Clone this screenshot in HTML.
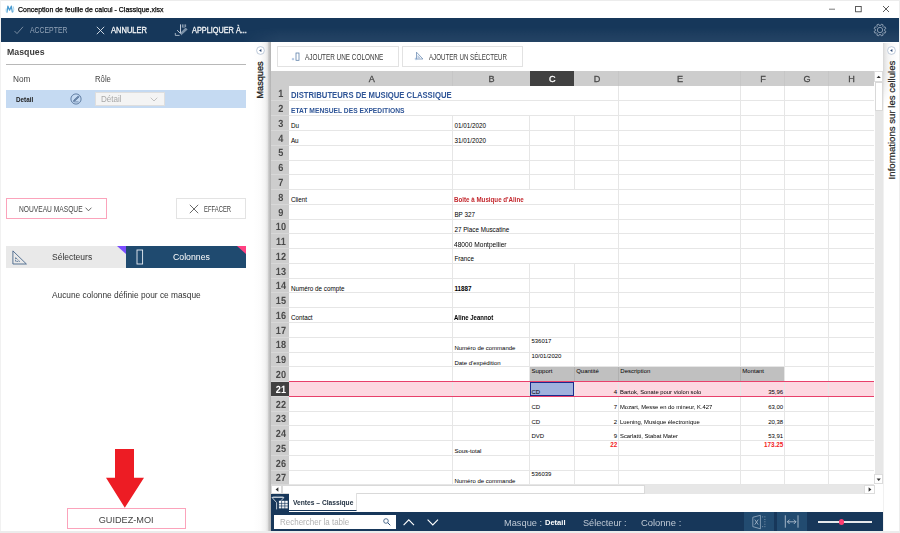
<!DOCTYPE html>
<html><head><meta charset="utf-8"><title>Conception de feuille de calcul</title>
<style>
html,body{margin:0;padding:0;}
body{width:900px;height:533px;overflow:hidden;background:#fff;position:relative;font-family:"Liberation Sans",sans-serif;color:#222;}
body div{position:absolute;box-sizing:border-box;}
.t{white-space:nowrap;}
svg{position:absolute;overflow:visible;}
</style></head><body>

<svg style="left:5.2px;top:3.6px" width="10" height="10" viewBox="0 0 10 10"><path d="M2 8 L2.9 2.2 L4.6 6.2 L6.3 2.2 L7.3 8" fill="none" stroke="#4a9bd0" stroke-width="1.25" stroke-linejoin="round" stroke-linecap="round"/><path d="M1.2 4.6 Q0.4 7.6 2.4 8.9" fill="none" stroke="#9fd3ec" stroke-width="0.9"/><path d="M8.2 2.3 Q9.4 5 8.3 8.2" fill="none" stroke="#9fd3ec" stroke-width="0.9"/></svg>
<div style="left:0.00px;top:0.00px;width:900.00px;height:1.00px;background:#ececec;"></div>
<div style="left:0.00px;top:0.00px;width:1.00px;height:533.00px;background:#f1f1f1;"></div>
<div style="left:899.10px;top:0.00px;width:0.90px;height:533.00px;background:#ededed;"></div>
<div class="t" style="left:18.00px;top:3.75px;font-size:8px;line-height:11px;height:11px;transform:scaleX(0.872);transform-origin:left center;color:#000;-webkit-text-stroke:0.25px;">Conception de feuille de calcul - Classique.xlsx</div>
<svg style="left:826px;top:3px" width="70" height="12" viewBox="0 0 70 12"><path d="M3 6.2 H9" stroke="#555" stroke-width="0.8"/><rect x="29.6" y="3.4" width="5.6" height="5.4" fill="none" stroke="#333" stroke-width="0.8"/><path d="M57 3 L63 9 M63 3 L57 9" stroke="#333" stroke-width="0.8"/></svg>
<div style="left:1.00px;top:18.00px;width:898.10px;height:23.60px;background:#16375a;"></div>
<div style="left:240.00px;top:18.00px;width:659.10px;height:23.60px;background:linear-gradient(to bottom,rgba(255,255,255,0) 35%,rgba(255,255,255,0.065) 100%);-webkit-mask-image:linear-gradient(90deg,transparent 0,#000 40px);"></div>
<svg style="left:14px;top:25px" width="10" height="10" viewBox="0 0 10 10"><path d="M0.5 6 L3 8.6 L9 1.8" fill="none" stroke="#8193a7" stroke-width="0.9"/></svg>
<div class="t" style="left:29.50px;top:23.96px;font-size:8.6px;line-height:12px;height:12px;transform:scaleX(0.8);transform-origin:left center;color:#93a4b8;">ACCEPTER</div>
<svg style="left:96px;top:26px" width="9" height="9" viewBox="0 0 9 9"><path d="M0.8 0.8 L8.2 8.2 M8.2 0.8 L0.8 8.2" stroke="#dfe6ee" stroke-width="0.9"/></svg>
<div class="t" style="left:111.00px;top:23.89px;font-size:8.4px;line-height:12px;height:12px;transform:scaleX(0.9);transform-origin:left center;color:#f4f6f8;-webkit-text-stroke:0.3px;">ANNULER</div>
<svg style="left:174px;top:23px" width="15" height="14" viewBox="0 0 15 14"><path d="M6.5 1.4 V10.4 M3.2 7.2 L6.5 10.6" fill="none" stroke="#dfe6ee" stroke-width="0.85"/><path d="M1.3 10 V12.4 H5.6" fill="none" stroke="#c3cedb" stroke-width="0.8"/><path d="M7 12.4 L13.6 6.6 L11.6 4.6 L6.6 9.6 Z" fill="#9fb0c3" fill-opacity="0.75"/><path d="M8.4 1.4 V4.6 M10 1.4 V5 M11.6 1.4 V4" stroke="#c3cedb" stroke-width="0.7"/></svg>
<div class="t" style="left:191.80px;top:23.89px;font-size:8.4px;line-height:12px;height:12px;transform:scaleX(0.873);transform-origin:left center;color:#f4f6f8;-webkit-text-stroke:0.3px;">APPLIQUER À...</div>
<svg style="left:873px;top:22.9px" width="14" height="14" viewBox="0 0 14 14"><path d="M7.68 2.45 L8.35 1.15 L10.18 1.91 L9.73 3.30 L10.70 4.27 L12.09 3.82 L12.85 5.65 L11.55 6.32 L11.55 7.68 L12.85 8.35 L12.09 10.18 L10.70 9.73 L9.73 10.70 L10.18 12.09 L8.35 12.85 L7.68 11.55 L6.32 11.55 L5.65 12.85 L3.82 12.09 L4.27 10.70 L3.30 9.73 L1.91 10.18 L1.15 8.35 L2.45 7.68 L2.45 6.32 L1.15 5.65 L1.91 3.82 L3.30 4.27 L4.27 3.30 L3.82 1.91 L5.65 1.15 L6.32 2.45 Z" fill="none" stroke="#a9b7c7" stroke-width="0.75" stroke-linejoin="round"/><circle cx="7" cy="7" r="2.7" fill="none" stroke="#a9b7c7" stroke-width="0.75"/></svg>
<div class="t" style="left:6.80px;top:46.16px;font-size:9.2px;line-height:12px;height:12px;transform:scaleX(0.955);transform-origin:left center;color:#3c3c3c;font-weight:bold;">Masques</div>
<div style="left:6.30px;top:64.20px;width:239.60px;height:1.00px;background:#b8b8b8;"></div>
<div class="t" style="left:13.00px;top:73.22px;font-size:8.5px;line-height:12px;height:12px;transform:scaleX(0.97);transform-origin:left center;color:#444;">Nom</div>
<div class="t" style="left:94.60px;top:73.22px;font-size:8.5px;line-height:12px;height:12px;transform:scaleX(0.91);transform-origin:left center;color:#444;">Rôle</div>
<div style="left:6.30px;top:90.10px;width:239.70px;height:17.90px;background:#c5daf2;"></div>
<div class="t" style="left:15.60px;top:95.11px;font-size:7px;line-height:9px;height:9px;transform:scaleX(0.9);transform-origin:left center;color:#1a1a1a;font-weight:bold;">Detail</div>
<svg style="left:69.6px;top:93.3px" width="12" height="12" viewBox="0 0 12 12"><circle cx="6" cy="6" r="5.1" fill="none" stroke="#40608a" stroke-width="0.75"/><path d="M3.3 8.5 L3.9 7.0 L8.2 2.9 L9.2 3.9 L4.9 8.1 Z" fill="#6d88aa" stroke="#40608a" stroke-width="0.5"/><path d="M4.2 8.9 H8.6" stroke="#40608a" stroke-width="0.6"/></svg>
<div style="left:94.70px;top:91.80px;width:70.70px;height:14.10px;background:#f4f4f4;border:1px solid #dedede;"></div>
<div class="t" style="left:101.00px;top:93.12px;font-size:8.5px;line-height:12px;height:12px;transform:scaleX(0.95);transform-origin:left center;color:#a8a8a8;">Détail</div>
<svg style="left:150px;top:97px" width="8" height="5" viewBox="0 0 8 5"><path d="M0.7 0.7 L4 4 L7.3 0.7" fill="none" stroke="#b5b5b5" stroke-width="0.8"/></svg>
<div style="left:6.00px;top:198.00px;width:101.00px;height:21.00px;border:1px solid #fba3bb;background:#fff;"></div>
<div class="t" style="left:18.70px;top:202.56px;font-size:8.6px;line-height:12px;height:12px;transform:scaleX(0.774);transform-origin:left center;color:#444;">NOUVEAU MASQUE</div>
<svg style="left:84.6px;top:206.6px" width="7" height="5" viewBox="0 0 7 5"><path d="M0.6 0.7 L3.5 3.8 L6.4 0.7" fill="none" stroke="#444" stroke-width="0.8"/></svg>
<div style="left:176.00px;top:198.00px;width:70.00px;height:21.00px;border:1px solid #e3e3e3;background:#fff;"></div>
<svg style="left:188.5px;top:204px" width="10" height="10" viewBox="0 0 10 10"><path d="M0.8 0.8 L9.2 9.2 M9.2 0.8 L0.8 9.2" stroke="#444" stroke-width="0.8"/></svg>
<div class="t" style="left:204.20px;top:202.56px;font-size:8.6px;line-height:12px;height:12px;transform:scaleX(0.684);transform-origin:left center;color:#444;">EFFACER</div>
<div style="left:6.00px;top:245.80px;width:120.00px;height:22.30px;background:#e9e9e9;"></div>
<div style="left:126.00px;top:245.80px;width:120.00px;height:22.30px;background:#1f4a6f;"></div>
<svg style="left:117px;top:246px" width="9" height="8" viewBox="0 0 9 8"><path d="M0 0 H9 V8 Z" fill="#7b4dff"/></svg>
<svg style="left:237px;top:246px" width="9" height="8" viewBox="0 0 9 8"><path d="M0 0 H9 V8 Z" fill="#ff4081"/></svg>
<svg style="left:11.8px;top:249.8px" width="15.5" height="15" viewBox="0 0 15.5 15"><path d="M0.9 0.9 V14 H14.4 Z" fill="none" stroke="#3d5f85" stroke-width="0.85" stroke-linejoin="round"/><path d="M3.6 7.6 V11.4 H7.6 Z" fill="none" stroke="#3d5f85" stroke-width="0.75" stroke-dasharray="1.6 0.7"/></svg>
<div class="t" style="left:52.20px;top:250.56px;font-size:9.2px;line-height:12px;height:12px;transform:scaleX(0.925);transform-origin:left center;color:#333;">Sélecteurs</div>
<svg style="left:135.5px;top:249px" width="8" height="16" viewBox="0 0 8 16"><rect x="1" y="1" width="5.6" height="14" fill="none" stroke="#e8eef5" stroke-width="0.9"/></svg>
<div class="t" style="left:173.30px;top:250.56px;font-size:9.2px;line-height:12px;height:12px;transform:scaleX(0.95);transform-origin:left center;color:#fff;">Colonnes</div>
<div class="t" style="left:52.00px;top:288.92px;font-size:8.5px;line-height:12px;height:12px;transform:scaleX(0.98);transform-origin:left center;color:#333;">Aucune colonne définie pour ce masque</div>
<svg style="left:100px;top:445px" width="50" height="66" viewBox="0 0 50 66"><path d="M15 4 H34 V32.7 H44 L24.8 62.7 L6 32.7 H15 Z" fill="#ed1c24"/></svg>
<div style="left:67.30px;top:508.30px;width:118.40px;height:20.70px;border:1px solid #fba3bb;background:#fff;"></div>
<div class="t" style="left:67.30px;top:512.64px;font-size:9.7px;line-height:13px;height:13px;width:118.40px;text-align:center;transform:scaleX(0.945);transform-origin:center center;color:#444;">GUIDEZ-MOI</div>
<div style="left:253.30px;top:42.30px;width:18.00px;height:488.70px;background:linear-gradient(90deg,#fff 0%,#fcfcfc 42%,#f3f3f3 68%,#e6e6e6 80%,#d2d2d2 84%,#c2c2c2 90%,#b2b2b2 100%);"></div>
<svg style="left:254.9px;top:44.8px" width="11" height="11" viewBox="0 0 11 11"><circle cx="5.5" cy="5.5" r="3.9" fill="#fff" stroke="#a9b9cf" stroke-width="0.75"/><path d="M6.4 4.1 V6.9 L4.1 5.5 Z" fill="#2c4a78"/></svg>
<div class="t" style="left:260.2px;top:79.7px;width:0;height:0;"><div class="t" style="left:-30px;top:-7px;width:60px;height:14px;line-height:14px;text-align:center;font-size:9.4px;color:#1e1e1e;-webkit-text-stroke:0.3px;transform:rotate(-90deg) scaleX(0.975);">Masques</div></div>
<div style="left:271.20px;top:42.00px;width:1.00px;height:1.00px;background:#fff;"></div>
<div style="left:277.30px;top:46.00px;width:121.30px;height:20.60px;border:1px solid #e2e2e2;background:#fff;"></div>
<svg style="left:290.5px;top:51px" width="10" height="11" viewBox="0 0 10 11"><rect x="5" y="2" width="3" height="7.3" fill="none" stroke="#5478a4" stroke-width="0.75"/><path d="M0.8 8.1 H3.2 M2 6.9 V9.3" stroke="#7fa3cf" stroke-width="0.65"/></svg>
<div class="t" style="left:304.50px;top:50.69px;font-size:8.4px;line-height:12px;height:12px;transform:scaleX(0.762);transform-origin:left center;color:#3a3a3a;">AJOUTER UNE COLONNE</div>
<div style="left:402.00px;top:46.00px;width:120.60px;height:20.60px;border:1px solid #e2e2e2;background:#fff;"></div>
<svg style="left:414px;top:51px" width="11" height="11" viewBox="0 0 11 11"><path d="M2.5 1.2 V8 H8.9 Z" fill="none" stroke="#5b7fab" stroke-width="0.7" stroke-linejoin="round"/><path d="M3.9 4.6 V6.7 H5.9 Z" fill="none" stroke="#7a9bc4" stroke-width="0.5"/><path d="M0.7 7.9 H3.3 M2 6.6 V9.2" stroke="#7fa3cf" stroke-width="0.6"/></svg>
<div class="t" style="left:429.00px;top:50.69px;font-size:8.4px;line-height:12px;height:12px;transform:scaleX(0.735);transform-origin:left center;color:#3a3a3a;">AJOUTER UN SÉLECTEUR</div>
<div style="left:271.00px;top:71.30px;width:602.60px;height:15.00px;background:#cdcdcd;"></div>
<div style="left:271.00px;top:71.30px;width:18.00px;height:413.69px;background:#cdcdcd;"></div>
<div style="left:529.50px;top:71.30px;width:44.80px;height:15.00px;background:#414141;"></div>
<div class="t" style="left:289.50px;top:72.47px;font-size:9.5px;line-height:13px;height:13px;width:163.50px;text-align:center;transform:scaleX(0.96);transform-origin:center center;color:#4a4a4a;-webkit-text-stroke:0.3px;">A</div>
<div class="t" style="left:453.00px;top:72.47px;font-size:9.5px;line-height:13px;height:13px;width:77.00px;text-align:center;transform:scaleX(0.96);transform-origin:center center;color:#4a4a4a;-webkit-text-stroke:0.3px;">B</div>
<div class="t" style="left:530.00px;top:72.47px;font-size:9.5px;line-height:13px;height:13px;width:44.80px;text-align:center;transform:scaleX(0.96);transform-origin:center center;color:#fff;-webkit-text-stroke:0.3px;">C</div>
<div class="t" style="left:574.80px;top:72.47px;font-size:9.5px;line-height:13px;height:13px;width:44.10px;text-align:center;transform:scaleX(0.96);transform-origin:center center;color:#4a4a4a;-webkit-text-stroke:0.3px;">D</div>
<div class="t" style="left:618.90px;top:72.47px;font-size:9.5px;line-height:13px;height:13px;width:122.00px;text-align:center;transform:scaleX(0.96);transform-origin:center center;color:#4a4a4a;-webkit-text-stroke:0.3px;">E</div>
<div class="t" style="left:740.90px;top:72.47px;font-size:9.5px;line-height:13px;height:13px;width:44.00px;text-align:center;transform:scaleX(0.96);transform-origin:center center;color:#4a4a4a;-webkit-text-stroke:0.3px;">F</div>
<div class="t" style="left:784.90px;top:72.47px;font-size:9.5px;line-height:13px;height:13px;width:44.00px;text-align:center;transform:scaleX(0.96);transform-origin:center center;color:#4a4a4a;-webkit-text-stroke:0.3px;">G</div>
<div class="t" style="left:828.90px;top:72.47px;font-size:9.5px;line-height:13px;height:13px;width:45.20px;text-align:center;transform:scaleX(0.96);transform-origin:center center;color:#4a4a4a;-webkit-text-stroke:0.3px;">H</div>
<div style="left:452.00px;top:71.30px;width:1.00px;height:15.00px;background:#c6c6c6;"></div>
<div style="left:617.90px;top:71.30px;width:1.00px;height:15.00px;background:#c6c6c6;"></div>
<div style="left:739.90px;top:71.30px;width:1.00px;height:15.00px;background:#c6c6c6;"></div>
<div style="left:783.90px;top:71.30px;width:1.00px;height:15.00px;background:#c6c6c6;"></div>
<div style="left:827.90px;top:71.30px;width:1.00px;height:15.00px;background:#c6c6c6;"></div>
<div style="left:289.00px;top:381.60px;width:584.60px;height:14.77px;background:#fdd8e1;"></div>
<div style="left:529.20px;top:366.23px;width:255.50px;height:15.37px;background:#c0c0c0;"></div>
<div style="left:289.00px;top:100.47px;width:584.60px;height:1.00px;background:#e6e6e6;"></div>
<div style="left:271.00px;top:100.47px;width:18.00px;height:1.00px;background:#d8d8d8;"></div>
<div style="left:289.00px;top:115.24px;width:584.60px;height:1.00px;background:#e6e6e6;"></div>
<div style="left:271.00px;top:115.24px;width:18.00px;height:1.00px;background:#d8d8d8;"></div>
<div style="left:289.00px;top:130.01px;width:584.60px;height:1.00px;background:#e6e6e6;"></div>
<div style="left:271.00px;top:130.01px;width:18.00px;height:1.00px;background:#d8d8d8;"></div>
<div style="left:289.00px;top:144.78px;width:584.60px;height:1.00px;background:#e6e6e6;"></div>
<div style="left:271.00px;top:144.78px;width:18.00px;height:1.00px;background:#d8d8d8;"></div>
<div style="left:289.00px;top:159.55px;width:584.60px;height:1.00px;background:#e6e6e6;"></div>
<div style="left:271.00px;top:159.55px;width:18.00px;height:1.00px;background:#d8d8d8;"></div>
<div style="left:289.00px;top:174.32px;width:584.60px;height:1.00px;background:#e6e6e6;"></div>
<div style="left:271.00px;top:174.32px;width:18.00px;height:1.00px;background:#d8d8d8;"></div>
<div style="left:289.00px;top:189.09px;width:584.60px;height:1.00px;background:#e6e6e6;"></div>
<div style="left:271.00px;top:189.09px;width:18.00px;height:1.00px;background:#d8d8d8;"></div>
<div style="left:289.00px;top:203.86px;width:584.60px;height:1.00px;background:#e6e6e6;"></div>
<div style="left:271.00px;top:203.86px;width:18.00px;height:1.00px;background:#d8d8d8;"></div>
<div style="left:289.00px;top:218.63px;width:584.60px;height:1.00px;background:#e6e6e6;"></div>
<div style="left:271.00px;top:218.63px;width:18.00px;height:1.00px;background:#d8d8d8;"></div>
<div style="left:289.00px;top:233.40px;width:584.60px;height:1.00px;background:#e6e6e6;"></div>
<div style="left:271.00px;top:233.40px;width:18.00px;height:1.00px;background:#d8d8d8;"></div>
<div style="left:289.00px;top:248.17px;width:584.60px;height:1.00px;background:#e6e6e6;"></div>
<div style="left:271.00px;top:248.17px;width:18.00px;height:1.00px;background:#d8d8d8;"></div>
<div style="left:289.00px;top:262.94px;width:584.60px;height:1.00px;background:#e6e6e6;"></div>
<div style="left:271.00px;top:262.94px;width:18.00px;height:1.00px;background:#d8d8d8;"></div>
<div style="left:289.00px;top:277.71px;width:584.60px;height:1.00px;background:#e6e6e6;"></div>
<div style="left:271.00px;top:277.71px;width:18.00px;height:1.00px;background:#d8d8d8;"></div>
<div style="left:289.00px;top:292.48px;width:584.60px;height:1.00px;background:#e6e6e6;"></div>
<div style="left:271.00px;top:292.48px;width:18.00px;height:1.00px;background:#d8d8d8;"></div>
<div style="left:289.00px;top:307.25px;width:584.60px;height:1.00px;background:#e6e6e6;"></div>
<div style="left:271.00px;top:307.25px;width:18.00px;height:1.00px;background:#d8d8d8;"></div>
<div style="left:289.00px;top:322.02px;width:584.60px;height:1.00px;background:#e6e6e6;"></div>
<div style="left:271.00px;top:322.02px;width:18.00px;height:1.00px;background:#d8d8d8;"></div>
<div style="left:289.00px;top:336.79px;width:584.60px;height:1.00px;background:#e6e6e6;"></div>
<div style="left:271.00px;top:336.79px;width:18.00px;height:1.00px;background:#d8d8d8;"></div>
<div style="left:289.00px;top:351.56px;width:584.60px;height:1.00px;background:#e6e6e6;"></div>
<div style="left:271.00px;top:351.56px;width:18.00px;height:1.00px;background:#d8d8d8;"></div>
<div style="left:289.00px;top:366.33px;width:584.60px;height:1.00px;background:#e6e6e6;"></div>
<div style="left:271.00px;top:366.33px;width:18.00px;height:1.00px;background:#d8d8d8;"></div>
<div style="left:289.00px;top:381.10px;width:584.60px;height:1.00px;background:#e6e6e6;"></div>
<div style="left:271.00px;top:381.10px;width:18.00px;height:1.00px;background:#d8d8d8;"></div>
<div style="left:289.00px;top:395.87px;width:584.60px;height:1.00px;background:#e6e6e6;"></div>
<div style="left:271.00px;top:395.87px;width:18.00px;height:1.00px;background:#d8d8d8;"></div>
<div style="left:289.00px;top:410.64px;width:584.60px;height:1.00px;background:#e6e6e6;"></div>
<div style="left:271.00px;top:410.64px;width:18.00px;height:1.00px;background:#d8d8d8;"></div>
<div style="left:289.00px;top:425.41px;width:584.60px;height:1.00px;background:#e6e6e6;"></div>
<div style="left:271.00px;top:425.41px;width:18.00px;height:1.00px;background:#d8d8d8;"></div>
<div style="left:289.00px;top:440.18px;width:584.60px;height:1.00px;background:#e6e6e6;"></div>
<div style="left:271.00px;top:440.18px;width:18.00px;height:1.00px;background:#d8d8d8;"></div>
<div style="left:289.00px;top:454.95px;width:584.60px;height:1.00px;background:#e6e6e6;"></div>
<div style="left:271.00px;top:454.95px;width:18.00px;height:1.00px;background:#d8d8d8;"></div>
<div style="left:289.00px;top:469.72px;width:584.60px;height:1.00px;background:#e6e6e6;"></div>
<div style="left:271.00px;top:469.72px;width:18.00px;height:1.00px;background:#d8d8d8;"></div>
<div style="left:289.00px;top:484.49px;width:584.60px;height:1.00px;background:#e6e6e6;"></div>
<div style="left:271.00px;top:484.49px;width:18.00px;height:1.00px;background:#d8d8d8;"></div>
<div style="left:452.00px;top:115.74px;width:1.00px;height:369.25px;background:#e6e6e6;"></div>
<div style="left:529.00px;top:115.74px;width:1.00px;height:73.85px;background:#e6e6e6;"></div>
<div style="left:573.80px;top:115.74px;width:1.00px;height:73.85px;background:#e6e6e6;"></div>
<div style="left:529.00px;top:263.44px;width:1.00px;height:221.55px;background:#e6e6e6;"></div>
<div style="left:573.80px;top:263.44px;width:1.00px;height:221.55px;background:#e6e6e6;"></div>
<div style="left:617.90px;top:86.20px;width:1.00px;height:398.79px;background:#e6e6e6;"></div>
<div style="left:739.90px;top:86.20px;width:1.00px;height:398.79px;background:#e6e6e6;"></div>
<div style="left:783.90px;top:86.20px;width:1.00px;height:398.79px;background:#e6e6e6;"></div>
<div style="left:827.90px;top:86.20px;width:1.00px;height:398.79px;background:#e6e6e6;"></div>
<div style="left:573.80px;top:366.83px;width:1.00px;height:14.77px;background:#b0b0b0;"></div>
<div style="left:617.90px;top:366.83px;width:1.00px;height:14.77px;background:#b0b0b0;"></div>
<div style="left:739.90px;top:366.83px;width:1.00px;height:14.77px;background:#b0b0b0;"></div>
<div style="left:271.00px;top:381.60px;width:18.00px;height:14.77px;background:#414141;"></div>
<div class="t" style="left:271.50px;top:88.36px;font-size:10.4px;line-height:13px;height:13px;width:17.80px;text-align:center;transform:scaleX(0.88);transform-origin:center center;color:#4a4a4a;font-weight:bold;text-rendering:geometricPrecision;">1</div>
<div class="t" style="left:271.50px;top:103.13px;font-size:10.4px;line-height:13px;height:13px;width:17.80px;text-align:center;transform:scaleX(0.88);transform-origin:center center;color:#4a4a4a;font-weight:bold;text-rendering:geometricPrecision;">2</div>
<div class="t" style="left:271.50px;top:117.90px;font-size:10.4px;line-height:13px;height:13px;width:17.80px;text-align:center;transform:scaleX(0.88);transform-origin:center center;color:#4a4a4a;font-weight:bold;text-rendering:geometricPrecision;">3</div>
<div class="t" style="left:271.50px;top:132.67px;font-size:10.4px;line-height:13px;height:13px;width:17.80px;text-align:center;transform:scaleX(0.88);transform-origin:center center;color:#4a4a4a;font-weight:bold;text-rendering:geometricPrecision;">4</div>
<div class="t" style="left:271.50px;top:147.44px;font-size:10.4px;line-height:13px;height:13px;width:17.80px;text-align:center;transform:scaleX(0.88);transform-origin:center center;color:#4a4a4a;font-weight:bold;text-rendering:geometricPrecision;">5</div>
<div class="t" style="left:271.50px;top:162.21px;font-size:10.4px;line-height:13px;height:13px;width:17.80px;text-align:center;transform:scaleX(0.88);transform-origin:center center;color:#4a4a4a;font-weight:bold;text-rendering:geometricPrecision;">6</div>
<div class="t" style="left:271.50px;top:176.98px;font-size:10.4px;line-height:13px;height:13px;width:17.80px;text-align:center;transform:scaleX(0.88);transform-origin:center center;color:#4a4a4a;font-weight:bold;text-rendering:geometricPrecision;">7</div>
<div class="t" style="left:271.50px;top:191.75px;font-size:10.4px;line-height:13px;height:13px;width:17.80px;text-align:center;transform:scaleX(0.88);transform-origin:center center;color:#4a4a4a;font-weight:bold;text-rendering:geometricPrecision;">8</div>
<div class="t" style="left:271.50px;top:206.52px;font-size:10.4px;line-height:13px;height:13px;width:17.80px;text-align:center;transform:scaleX(0.88);transform-origin:center center;color:#4a4a4a;font-weight:bold;text-rendering:geometricPrecision;">9</div>
<div class="t" style="left:271.50px;top:221.29px;font-size:10.4px;line-height:13px;height:13px;width:17.80px;text-align:center;transform:scaleX(0.88);transform-origin:center center;color:#4a4a4a;font-weight:bold;text-rendering:geometricPrecision;">10</div>
<div class="t" style="left:271.50px;top:236.06px;font-size:10.4px;line-height:13px;height:13px;width:17.80px;text-align:center;transform:scaleX(0.88);transform-origin:center center;color:#4a4a4a;font-weight:bold;text-rendering:geometricPrecision;">11</div>
<div class="t" style="left:271.50px;top:250.83px;font-size:10.4px;line-height:13px;height:13px;width:17.80px;text-align:center;transform:scaleX(0.88);transform-origin:center center;color:#4a4a4a;font-weight:bold;text-rendering:geometricPrecision;">12</div>
<div class="t" style="left:271.50px;top:265.60px;font-size:10.4px;line-height:13px;height:13px;width:17.80px;text-align:center;transform:scaleX(0.88);transform-origin:center center;color:#4a4a4a;font-weight:bold;text-rendering:geometricPrecision;">13</div>
<div class="t" style="left:271.50px;top:280.37px;font-size:10.4px;line-height:13px;height:13px;width:17.80px;text-align:center;transform:scaleX(0.88);transform-origin:center center;color:#4a4a4a;font-weight:bold;text-rendering:geometricPrecision;">14</div>
<div class="t" style="left:271.50px;top:295.14px;font-size:10.4px;line-height:13px;height:13px;width:17.80px;text-align:center;transform:scaleX(0.88);transform-origin:center center;color:#4a4a4a;font-weight:bold;text-rendering:geometricPrecision;">15</div>
<div class="t" style="left:271.50px;top:309.91px;font-size:10.4px;line-height:13px;height:13px;width:17.80px;text-align:center;transform:scaleX(0.88);transform-origin:center center;color:#4a4a4a;font-weight:bold;text-rendering:geometricPrecision;">16</div>
<div class="t" style="left:271.50px;top:324.68px;font-size:10.4px;line-height:13px;height:13px;width:17.80px;text-align:center;transform:scaleX(0.88);transform-origin:center center;color:#4a4a4a;font-weight:bold;text-rendering:geometricPrecision;">17</div>
<div class="t" style="left:271.50px;top:339.45px;font-size:10.4px;line-height:13px;height:13px;width:17.80px;text-align:center;transform:scaleX(0.88);transform-origin:center center;color:#4a4a4a;font-weight:bold;text-rendering:geometricPrecision;">18</div>
<div class="t" style="left:271.50px;top:354.22px;font-size:10.4px;line-height:13px;height:13px;width:17.80px;text-align:center;transform:scaleX(0.88);transform-origin:center center;color:#4a4a4a;font-weight:bold;text-rendering:geometricPrecision;">19</div>
<div class="t" style="left:271.50px;top:368.99px;font-size:10.4px;line-height:13px;height:13px;width:17.80px;text-align:center;transform:scaleX(0.88);transform-origin:center center;color:#4a4a4a;font-weight:bold;text-rendering:geometricPrecision;">20</div>
<div class="t" style="left:271.50px;top:383.76px;font-size:10.4px;line-height:13px;height:13px;width:17.80px;text-align:center;transform:scaleX(0.88);transform-origin:center center;color:#fff;font-weight:bold;text-rendering:geometricPrecision;">21</div>
<div class="t" style="left:271.50px;top:398.53px;font-size:10.4px;line-height:13px;height:13px;width:17.80px;text-align:center;transform:scaleX(0.88);transform-origin:center center;color:#4a4a4a;font-weight:bold;text-rendering:geometricPrecision;">22</div>
<div class="t" style="left:271.50px;top:413.30px;font-size:10.4px;line-height:13px;height:13px;width:17.80px;text-align:center;transform:scaleX(0.88);transform-origin:center center;color:#4a4a4a;font-weight:bold;text-rendering:geometricPrecision;">23</div>
<div class="t" style="left:271.50px;top:428.07px;font-size:10.4px;line-height:13px;height:13px;width:17.80px;text-align:center;transform:scaleX(0.88);transform-origin:center center;color:#4a4a4a;font-weight:bold;text-rendering:geometricPrecision;">24</div>
<div class="t" style="left:271.50px;top:442.84px;font-size:10.4px;line-height:13px;height:13px;width:17.80px;text-align:center;transform:scaleX(0.88);transform-origin:center center;color:#4a4a4a;font-weight:bold;text-rendering:geometricPrecision;">25</div>
<div class="t" style="left:271.50px;top:457.61px;font-size:10.4px;line-height:13px;height:13px;width:17.80px;text-align:center;transform:scaleX(0.88);transform-origin:center center;color:#4a4a4a;font-weight:bold;text-rendering:geometricPrecision;">26</div>
<div class="t" style="left:271.50px;top:472.38px;font-size:10.4px;line-height:13px;height:13px;width:17.80px;text-align:center;transform:scaleX(0.88);transform-origin:center center;color:#4a4a4a;font-weight:bold;text-rendering:geometricPrecision;">27</div>
<div style="left:289.00px;top:380.90px;width:584.60px;height:1.30px;background:#e8406b;"></div>
<div style="left:289.00px;top:395.77px;width:584.60px;height:1.30px;background:#e8406b;"></div>
<div style="left:529.70px;top:381.70px;width:44.80px;height:14.67px;background:#a0b2dd;border:1.2px solid #1c2a8c;"></div>
<div class="t" style="left:291.00px;top:88.86px;font-size:8.3px;line-height:12px;height:12px;transform:scaleX(0.929);transform-origin:left center;color:#2f5597;font-weight:bold;">DISTRIBUTEURS DE MUSIQUE CLASSIQUE</div>
<div class="t" style="left:291.00px;top:104.98px;font-size:7.8px;line-height:11px;height:11px;transform:scaleX(0.859);transform-origin:left center;color:#2f5597;font-weight:bold;">ETAT MENSUEL DES EXPEDITIONS</div>
<div class="t" style="left:290.90px;top:121.38px;font-size:6.3px;line-height:9px;height:9px;color:#000;">Du</div>
<div class="t" style="left:454.40px;top:121.38px;font-size:6.3px;line-height:9px;height:9px;color:#000;">01/01/2020</div>
<div class="t" style="left:290.90px;top:136.15px;font-size:6.3px;line-height:9px;height:9px;color:#000;">Au</div>
<div class="t" style="left:454.40px;top:136.15px;font-size:6.3px;line-height:9px;height:9px;color:#000;">31/01/2020</div>
<div class="t" style="left:290.90px;top:195.23px;font-size:6.3px;line-height:9px;height:9px;color:#000;">Client</div>
<div class="t" style="left:454.40px;top:195.23px;font-size:6.3px;line-height:9px;height:9px;transform:scaleX(0.986);transform-origin:left center;color:#c3272d;font-weight:bold;">Boîte à Musique d'Aline</div>
<div class="t" style="left:454.40px;top:210.00px;font-size:6.3px;line-height:9px;height:9px;color:#000;">BP 327</div>
<div class="t" style="left:454.40px;top:224.77px;font-size:6.3px;line-height:9px;height:9px;color:#000;">27 Place Muscatine</div>
<div class="t" style="left:454.40px;top:239.54px;font-size:6.3px;line-height:9px;height:9px;transform:scaleX(1.05);transform-origin:left center;color:#000;">48000 Montpellier</div>
<div class="t" style="left:454.40px;top:254.31px;font-size:6.3px;line-height:9px;height:9px;color:#000;">France</div>
<div class="t" style="left:290.90px;top:283.85px;font-size:6.3px;line-height:9px;height:9px;color:#000;">Numéro de compte</div>
<div class="t" style="left:454.40px;top:283.85px;font-size:6.3px;line-height:9px;height:9px;color:#000;font-weight:bold;">11887</div>
<div class="t" style="left:290.90px;top:313.39px;font-size:6.3px;line-height:9px;height:9px;color:#000;">Contact</div>
<div class="t" style="left:454.40px;top:313.39px;font-size:6.3px;line-height:9px;height:9px;transform:scaleX(0.95);transform-origin:left center;color:#000;font-weight:bold;">Aline Jeannot</div>
<div class="t" style="left:454.40px;top:343.94px;font-size:6.0px;line-height:8px;height:8px;color:#000;">Numéro de commande</div>
<div class="t" style="left:531.40px;top:337.14px;font-size:6.0px;line-height:8px;height:8px;color:#000;">536017</div>
<div class="t" style="left:454.40px;top:358.71px;font-size:6.0px;line-height:8px;height:8px;color:#000;">Date d'expédition</div>
<div class="t" style="left:531.40px;top:351.91px;font-size:6.0px;line-height:8px;height:8px;color:#000;">10/01/2020</div>
<div class="t" style="left:531.40px;top:366.68px;font-size:6.0px;line-height:8px;height:8px;color:#000;">Support</div>
<div class="t" style="left:576.20px;top:366.68px;font-size:6.0px;line-height:8px;height:8px;color:#000;">Quantité</div>
<div class="t" style="left:620.30px;top:366.68px;font-size:6.0px;line-height:8px;height:8px;color:#000;">Description</div>
<div class="t" style="left:742.30px;top:366.68px;font-size:6.0px;line-height:8px;height:8px;color:#000;">Montant</div>
<div class="t" style="left:531.40px;top:388.25px;font-size:6.0px;line-height:8px;height:8px;color:#000;">CD</div>
<div class="t" style="left:574.30px;top:388.25px;font-size:6.0px;line-height:8px;height:8px;width:42.90px;text-align:right;color:#000;">4</div>
<div class="t" style="left:620.30px;top:388.25px;font-size:6.0px;line-height:8px;height:8px;transform:scaleX(0.975);transform-origin:left center;color:#000;">Bartok, Sonate pour violon solo</div>
<div class="t" style="left:740.40px;top:388.25px;font-size:6.0px;line-height:8px;height:8px;width:42.80px;text-align:right;color:#000;">35,96</div>
<div class="t" style="left:531.40px;top:403.02px;font-size:6.0px;line-height:8px;height:8px;color:#000;">CD</div>
<div class="t" style="left:574.30px;top:403.02px;font-size:6.0px;line-height:8px;height:8px;width:42.90px;text-align:right;color:#000;">7</div>
<div class="t" style="left:620.30px;top:403.02px;font-size:6.0px;line-height:8px;height:8px;transform:scaleX(0.975);transform-origin:left center;color:#000;">Mozart, Messe en do mineur, K.427</div>
<div class="t" style="left:740.40px;top:403.02px;font-size:6.0px;line-height:8px;height:8px;width:42.80px;text-align:right;color:#000;">63,00</div>
<div class="t" style="left:531.40px;top:417.79px;font-size:6.0px;line-height:8px;height:8px;color:#000;">CD</div>
<div class="t" style="left:574.30px;top:417.79px;font-size:6.0px;line-height:8px;height:8px;width:42.90px;text-align:right;color:#000;">2</div>
<div class="t" style="left:620.30px;top:417.79px;font-size:6.0px;line-height:8px;height:8px;transform:scaleX(0.975);transform-origin:left center;color:#000;">Luening, Musique électronique</div>
<div class="t" style="left:740.40px;top:417.79px;font-size:6.0px;line-height:8px;height:8px;width:42.80px;text-align:right;color:#000;">20,38</div>
<div class="t" style="left:531.40px;top:431.86px;font-size:6.0px;line-height:8px;height:8px;color:#000;">DVD</div>
<div class="t" style="left:574.30px;top:431.86px;font-size:6.0px;line-height:8px;height:8px;width:42.90px;text-align:right;color:#000;">9</div>
<div class="t" style="left:620.30px;top:431.86px;font-size:6.0px;line-height:8px;height:8px;transform:scaleX(0.975);transform-origin:left center;color:#000;">Scarlatti, Stabat Mater</div>
<div class="t" style="left:740.40px;top:431.86px;font-size:6.0px;line-height:8px;height:8px;width:42.80px;text-align:right;color:#000;">53,91</div>
<div class="t" style="left:454.40px;top:447.33px;font-size:6.0px;line-height:8px;height:8px;color:#000;">Sous-total</div>
<div class="t" style="left:574.30px;top:439.54px;font-size:6.3px;line-height:9px;height:9px;width:42.90px;text-align:right;color:#f21b24;font-weight:bold;">22</div>
<div class="t" style="left:740.40px;top:439.54px;font-size:6.3px;line-height:9px;height:9px;width:42.80px;text-align:right;color:#f21b24;font-weight:bold;">173.25</div>
<div class="t" style="left:454.40px;top:476.87px;font-size:6.0px;line-height:8px;height:8px;color:#000;">Numéro de commande</div>
<div class="t" style="left:531.40px;top:470.07px;font-size:6.0px;line-height:8px;height:8px;color:#000;">536039</div>
<div style="left:875.10px;top:71.30px;width:7.90px;height:412.69px;background:#e7e7e7;"></div>
<div style="left:874.40px;top:71.30px;width:9.00px;height:10.90px;background:#fff;border:1px solid #dcdcdc;"></div>
<svg style="left:876.2px;top:74.6px" width="6" height="4" viewBox="0 0 6 4"><path d="M0.6 3.1 L2.7 0.7 L4.8 3.1 Z" fill="#333"/></svg>
<div style="left:874.80px;top:81.80px;width:8.20px;height:29.50px;background:#fff;border:1px solid #d9d9d9;"></div>
<div style="left:874.40px;top:474.40px;width:9.00px;height:10.00px;background:#fff;border:1px solid #dcdcdc;"></div>
<svg style="left:876.2px;top:478.4px" width="6" height="4" viewBox="0 0 6 4"><path d="M0.6 0.5 L2.7 2.9 L4.8 0.5 Z" fill="#333"/></svg>
<div style="left:271.00px;top:485.20px;width:603.40px;height:8.50px;background:#e7e7e7;"></div>
<div style="left:271.00px;top:485.20px;width:11.40px;height:8.50px;background:#fff;border:1px solid #d9d9d9;"></div>
<svg style="left:275.2px;top:486.7px" width="4" height="5" viewBox="0 0 4 5"><path d="M3.4 0.3 L0.6 2.5 L3.4 4.7 Z" fill="#333"/></svg>
<div style="left:282.40px;top:485.20px;width:362.40px;height:8.50px;background:#fff;border:1px solid #d9d9d9;"></div>
<div style="left:864.20px;top:485.20px;width:10.40px;height:8.50px;background:#fff;border:1px solid #dcdcdc;"></div>
<svg style="left:867.6px;top:486.7px" width="4" height="5" viewBox="0 0 4 5"><path d="M0.6 0.3 L3.4 2.5 L0.6 4.7 Z" fill="#333"/></svg>
<div style="left:271.20px;top:493.60px;width:17.60px;height:18.60px;background:#17375a;"></div>
<svg style="left:271px;top:493px" width="18" height="19" viewBox="0 0 18 19"><path d="M1.2 4.5 H12.6 M1.4 4.9 L5.6 9.6 V16 M12.6 4.9 L10.2 7.4" fill="none" stroke="#e8eef4" stroke-width="0.8" stroke-linecap="round" stroke-linejoin="round"/><path d="M1.6 3.7 Q7 2.9 12.4 3.7" fill="none" stroke="#c9d4df" stroke-width="0.5"/><rect x="7.90" y="7.80" width="2.5" height="2.1" fill="#fff" fill-opacity="1"/><rect x="11.05" y="7.80" width="2.5" height="2.1" fill="#fff" fill-opacity="1"/><rect x="14.20" y="7.80" width="2.5" height="2.1" fill="#fff" fill-opacity="1"/><rect x="7.90" y="10.55" width="2.5" height="2.1" fill="#fff" fill-opacity="0.92"/><rect x="11.05" y="10.55" width="2.5" height="2.1" fill="#fff" fill-opacity="0.92"/><rect x="14.20" y="10.55" width="2.5" height="2.1" fill="#fff" fill-opacity="0.92"/><rect x="7.90" y="13.30" width="2.5" height="2.1" fill="#fff" fill-opacity="0.92"/><rect x="11.05" y="13.30" width="2.5" height="2.1" fill="#fff" fill-opacity="0.92"/><rect x="14.20" y="13.30" width="2.5" height="2.1" fill="#fff" fill-opacity="0.92"/></svg>
<div style="left:288.80px;top:493.20px;width:68.20px;height:18.00px;background:#fff;border-right:1px solid #e0e0e0;border-bottom:1.4px solid #17375a;"></div>
<div class="t" style="left:292.70px;top:496.95px;font-size:8px;line-height:11px;height:11px;transform:scaleX(0.833);transform-origin:left center;color:#1b2b3c;font-weight:bold;">Ventes – Classique</div>
<div style="left:271.00px;top:512.00px;width:612.00px;height:19.60px;background:#17375a;"></div>
<div style="left:274.20px;top:515.00px;width:121.60px;height:13.80px;background:#fff;"></div>
<div class="t" style="left:279.80px;top:516.22px;font-size:8.5px;line-height:12px;height:12px;transform:scaleX(0.94);transform-origin:left center;color:#b0b0b0;">Rechercher la table</div>
<svg style="left:382.8px;top:518.3px" width="8" height="8" viewBox="0 0 8 8"><circle cx="3" cy="3" r="2.3" fill="none" stroke="#2d5078" stroke-width="0.8"/><path d="M4.7 4.7 L7.3 7.3" stroke="#2d5078" stroke-width="1"/></svg>
<svg style="left:403.2px;top:518.7px" width="12" height="7" viewBox="0 0 12 7"><path d="M0.6 6.2 L5.8 0.9 L11 6.2" fill="none" stroke="#fff" stroke-width="1.1"/></svg>
<svg style="left:426.7px;top:519px" width="12" height="7" viewBox="0 0 12 7"><path d="M0.6 0.6 L5.8 5.9 L11 0.6" fill="none" stroke="#fff" stroke-width="1.1"/></svg>
<div class="t" style="left:503.60px;top:515.57px;font-size:9.5px;line-height:13px;height:13px;transform:scaleX(0.975);transform-origin:left center;color:#bfc9d5;">Masque :</div>
<div class="t" style="left:544.80px;top:517.25px;font-size:8px;line-height:11px;height:11px;transform:scaleX(0.94);transform-origin:left center;color:#fff;font-weight:bold;">Detail</div>
<div class="t" style="left:583.30px;top:515.57px;font-size:9.5px;line-height:13px;height:13px;transform:scaleX(0.96);transform-origin:left center;color:#bfc9d5;">Sélecteur :</div>
<div class="t" style="left:641.20px;top:515.57px;font-size:9.5px;line-height:13px;height:13px;transform:scaleX(0.99);transform-origin:left center;color:#bfc9d5;">Colonne :</div>
<div style="left:744.10px;top:512.00px;width:30.20px;height:19.60px;background:#224b70;"></div>
<div style="left:776.90px;top:512.00px;width:29.80px;height:19.60px;background:#224b70;"></div>
<svg style="left:751.5px;top:515px" width="16" height="14" viewBox="0 0 16 14"><path d="M0.8 2.3 L8.4 0.3 V13.8 L0.8 11.6 Z" fill="none" stroke="#a3b5c8" stroke-width="0.75" stroke-linejoin="round"/><path d="M2.8 4.6 L6.2 9.6 M6.2 4.6 L2.8 9.6" stroke="#b4c3d3" stroke-width="0.75"/><rect x="10.30" y="1.50" width="0.8" height="0.8" fill="#a9b9ca"/><rect x="12.50" y="1.50" width="0.8" height="0.8" fill="#a9b9ca"/><rect x="12.50" y="4.00" width="0.8" height="0.8" fill="#a9b9ca"/><rect x="12.50" y="6.40" width="0.8" height="0.8" fill="#a9b9ca"/><rect x="12.50" y="8.80" width="0.8" height="0.8" fill="#a9b9ca"/><rect x="10.30" y="11.30" width="0.8" height="0.8" fill="#a9b9ca"/><rect x="12.50" y="11.30" width="0.8" height="0.8" fill="#a9b9ca"/></svg>
<svg style="left:784px;top:515px" width="16" height="13" viewBox="0 0 16 13"><path d="M1.3 0.3 V12.7 M14 0.3 V12.7" stroke="#c3cfdc" stroke-width="0.8"/><path d="M3.4 6.8 H12 M5.6 4.6 L3.4 6.8 L5.6 9 M9.8 4.6 L12 6.8 L9.8 9" fill="none" stroke="#c8d3df" stroke-width="0.75"/></svg>
<div style="left:817.80px;top:521.20px;width:53.80px;height:1.90px;background:#e6e8eb;"></div>
<div style="left:838.80px;top:519.40px;width:5.60px;height:5.60px;background:#ff3d71;border-radius:50%;"></div>
<div style="left:883.40px;top:42.60px;width:1.00px;height:488.80px;background:#f1f1f1;"></div>
<div style="left:883.40px;top:42.60px;width:15.70px;height:62.00px;background:linear-gradient(90deg,#d6d6d6 0%,#e6e6e6 12%,#f2f2f2 30%,#fafafa 55%,#fff 100%);-webkit-mask-image:linear-gradient(to bottom,#000 0,#000 50%,transparent 100%);"></div>
<svg style="left:886.1px;top:44.8px" width="11" height="11" viewBox="0 0 11 11"><circle cx="5.5" cy="5.5" r="3.9" fill="#fff" stroke="#a9b9cf" stroke-width="0.75"/><path d="M6.4 4.1 V6.9 L4.1 5.5 Z" fill="#2c4a78"/></svg>
<div class="t" style="left:892.3px;top:120px;width:0;height:0;"><div class="t" style="left:-80px;top:-7px;width:160px;height:14px;line-height:14px;text-align:center;font-size:9.9px;color:#1c1c1c;-webkit-text-stroke:0.2px;transform:rotate(-90deg) scaleX(0.975);">Informations sur les cellules</div></div>
<div style="left:0.00px;top:531.40px;width:900.00px;height:1.60px;background:#ececec;"></div>
</body></html>
